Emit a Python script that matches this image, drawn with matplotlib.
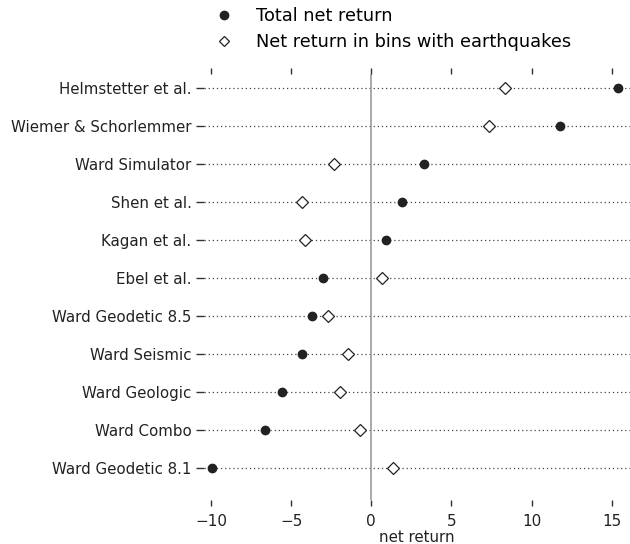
import matplotlib
matplotlib.use("Agg")
import matplotlib.pyplot as plt
from matplotlib.lines import Line2D

models = ["Helmstetter et al.", "Wiemer & Schorlemmer", "Ward Simulator", "Shen et al.",
          "Kagan et al.", "Ebel et al.", "Ward Geodetic 8.5", "Ward Seismic",
          "Ward Geologic", "Ward Combo", "Ward Geodetic 8.1"]
total_net = [15.36, 11.76, 3.26, 1.91, 0.92, -2.99, -3.68, -4.32, -5.59, -6.61, -9.93]
net_eq = [8.36, 7.32, -2.33, -4.32, -4.11, 0.67, -2.70, -1.43, -1.93, -0.69, 1.33]
xticks = [-10, -5, 0, 5, 10, 15]

fig = plt.figure(figsize=(6.3, 5.44), dpi=100)
ax = fig.add_axes([204/630, 1-500/544, 1-204/630, (500-74)/544])

n = len(models)
ypos = [n - 1 - i for i in range(n)]
ink = "#222222"
for y in ypos:
    ax.axhline(y, color="#444444", lw=0.9, ls=(0, (1, 2.3)), zorder=1)
ax.axvline(0, color="#999999", lw=1.2, zorder=1)

ax.plot(total_net, ypos, "o", color=ink, ms=6, ls="none", zorder=3)
ax.plot(net_eq, ypos, "D", mfc="white", mec=ink, mew=0.9, ms=6.5, ls="none", zorder=3)

ax.set_xlim(-10.43, 16.13)
ax.set_ylim(-0.84, 10.37)
ax.set_yticks(ypos)
ax.set_yticklabels(models, fontsize=10.8, color="#222222")
ax.set_xticks(xticks)
ax.set_xticklabels([f"{t}".replace("-", "\u2212") for t in xticks], fontsize=11, color="#222222")
ax.tick_params(axis="x", top=True, bottom=True, direction="out", length=4, width=1, color="#333333", pad=6)
ax.tick_params(axis="y", left=True, direction="out", length=6, width=1, color="#333333", pad=3)
for s in ax.spines.values():
    s.set_visible(False)
ax.set_xlabel("net return", fontsize=10.8, color="#222222", labelpad=1)

handles = [Line2D([], [], marker="o", color=ink, ls="none", ms=6),
           Line2D([], [], marker="D", mfc="white", mec=ink, mew=0.9, ls="none", ms=5)]
fig.legend(handles, ["Total net return", "Net return in bins with earthquakes"],
           loc="upper left", bbox_to_anchor=(196/630, 1.006), frameon=False,
           fontsize=12.8, handletextpad=0.75, labelspacing=0.45, borderpad=0.1)

fig.savefig("out.png", dpi=100)
